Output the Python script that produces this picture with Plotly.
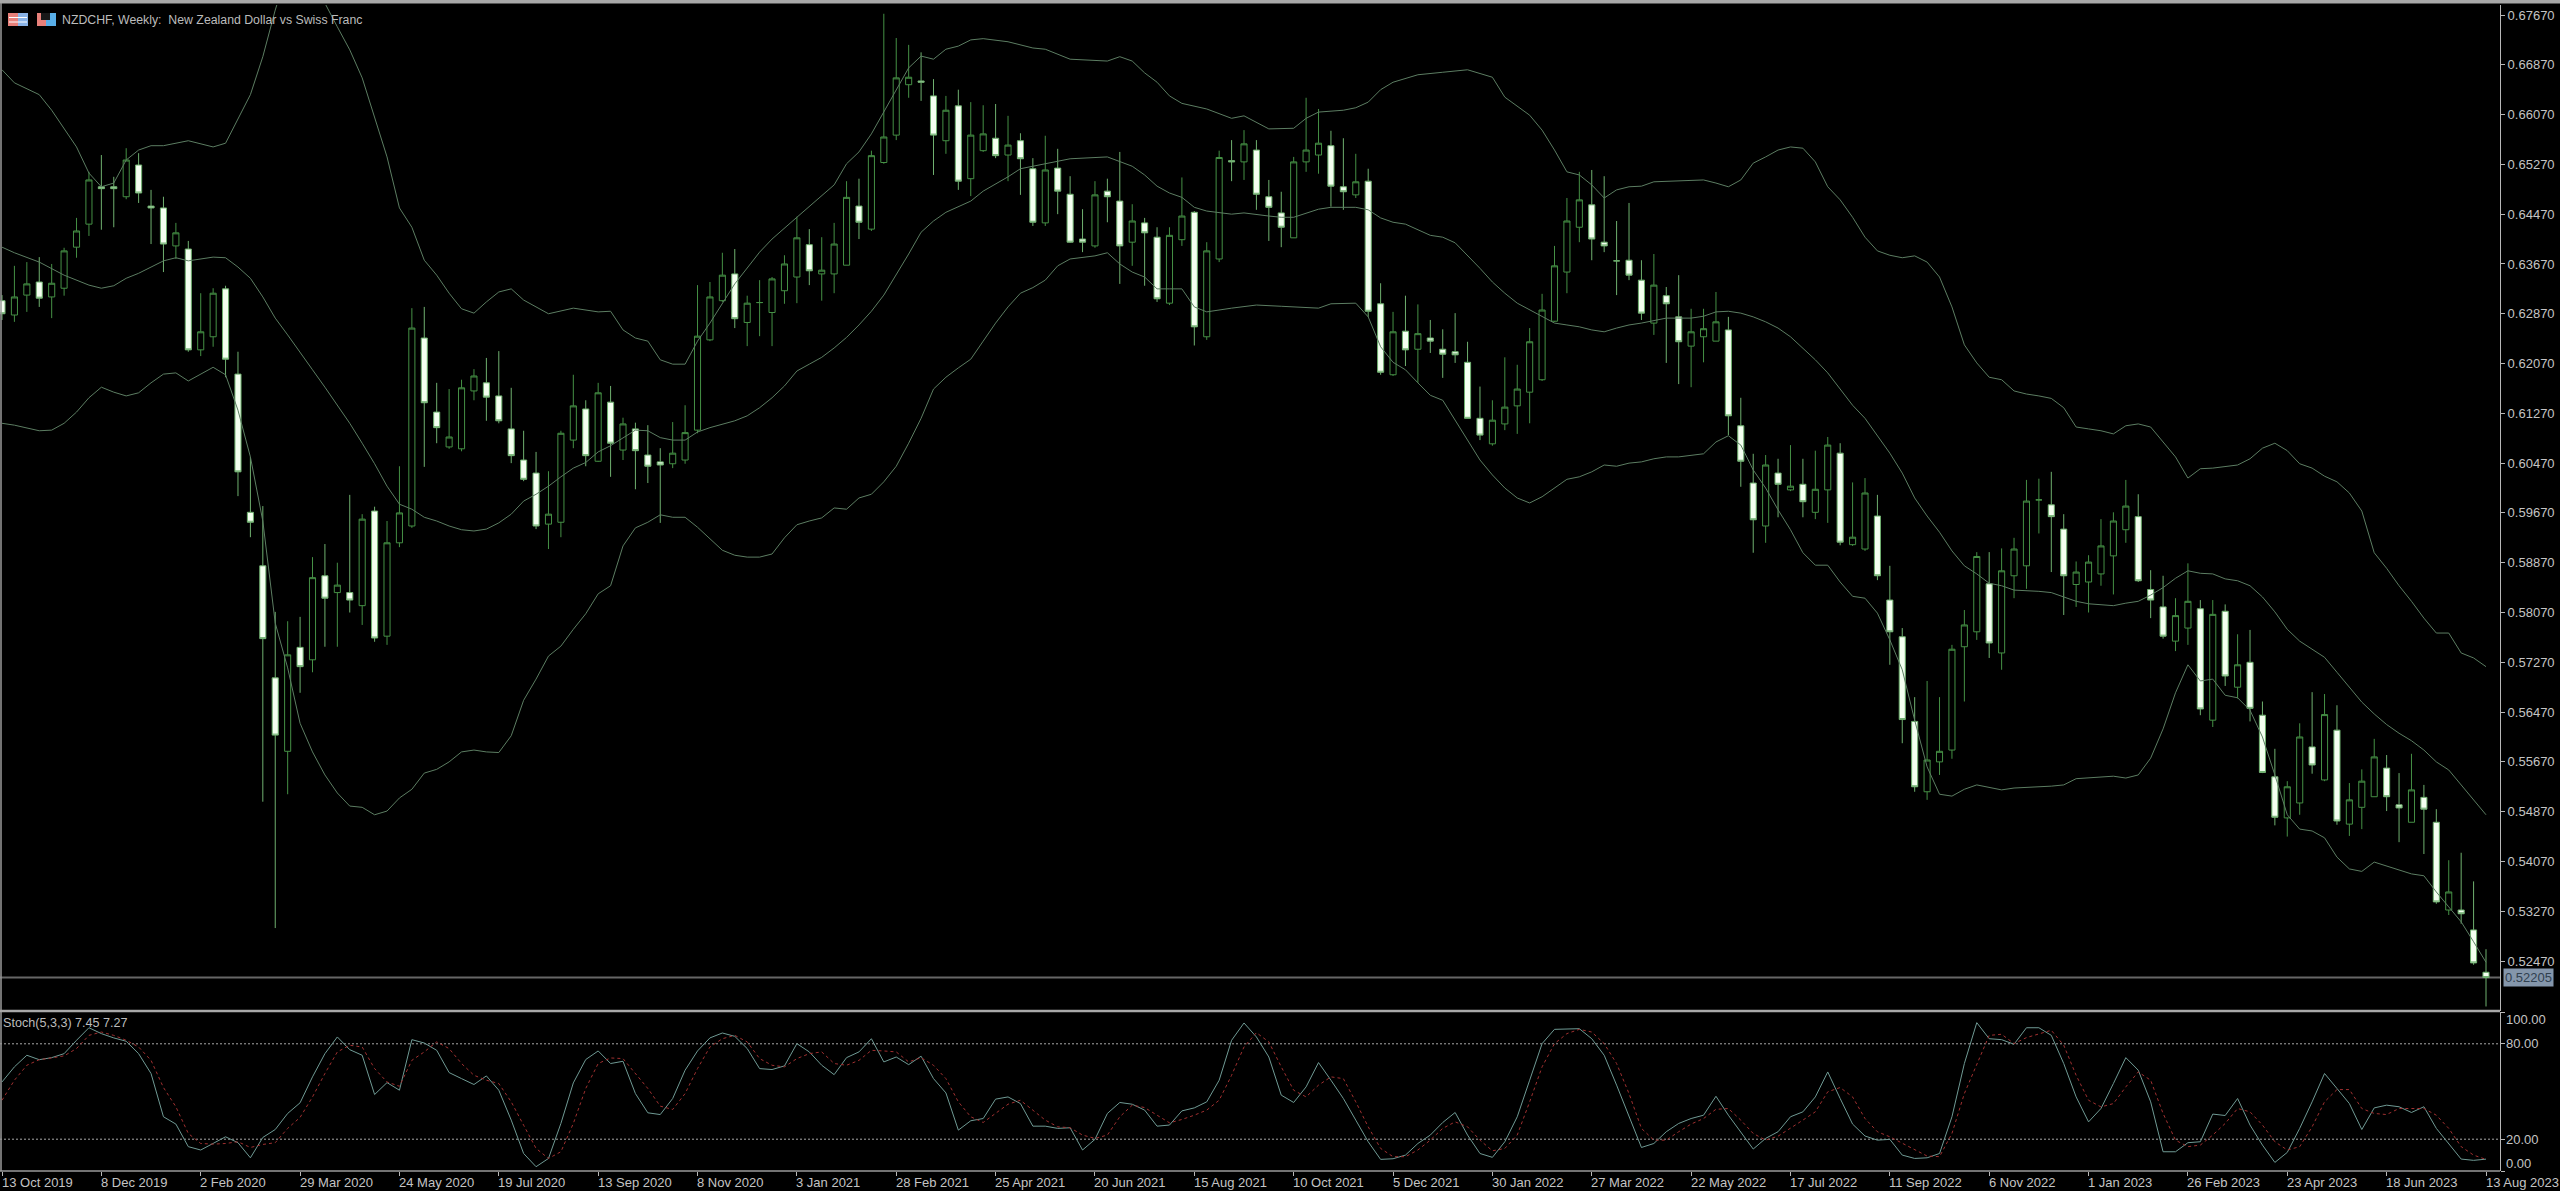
import plotly.graph_objects as go

W, H = 2560, 1191

title_text = "NZDCHF, Weekly:  New Zealand Dollar vs Swiss Franc"
stoch_text = "Stoch(5,3,3) 7.45 7.27"
last_price = 0.52205

date_labels = ["13 Oct 2019", "8 Dec 2019", "2 Feb 2020", "29 Mar 2020", "24 May 2020", "19 Jul 2020",
               "13 Sep 2020", "8 Nov 2020", "3 Jan 2021", "28 Feb 2021", "25 Apr 2021", "20 Jun 2021",
               "15 Aug 2021", "10 Oct 2021", "5 Dec 2021", "30 Jan 2022", "27 Mar 2022", "22 May 2022",
               "17 Jul 2022", "11 Sep 2022", "6 Nov 2022", "1 Jan 2023", "26 Feb 2023", "23 Apr 2023",
               "18 Jun 2023", "13 Aug 2023"]
date_bars = [i * 8 for i in range(len(date_labels))]
price_ticks = [0.6767, 0.6687, 0.6607, 0.6527, 0.6447, 0.6367, 0.6287, 0.6207, 0.6127, 0.6047, 0.5967,
               0.5887, 0.5807, 0.5727, 0.5647, 0.5567, 0.5487, 0.5407, 0.5327, 0.5247]
stoch_levels = [100, 80, 20, 0]

opens = [.6308,.6285,.6317,.6338,.6314,.6328,.6394,.6431,.6491,.6491,.6475,.6526,.6460,.6457,.6396,.6391,.6229,.6250,.6327,.6190,
 .5968,.5882,.5702,.5584,.5751,.5731,.5866,.5839,.5839,.5818,.5970,.5769,.5919,.5946,.6248,.6129,.6073,.6070,.6163,.6176,
 .6155,.6102,.6052,.6031,.5949,.5952,.6084,.6134,.6050,.6145,.6068,.6102,.6060,.6049,.6046,.6052,.6100,.6245,.6308,.6351,
 .6273,.6305,.6289,.6324,.6346,.6398,.6351,.6351,.6365,.6460,.6423,.6530,.6574,.6655,.6661,.6637,.6565,.6621,.6504,.6549,
 .6569,.6542,.6565,.6520,.6433,.6521,.6479,.6407,.6396,.6484,.6468,.6402,.6433,.6410,.6304,.6406,.6450,.6250,.6375,.6533,
 .6531,.6550,.6475,.6449,.6409,.6531,.6542,.6557,.6491,.6478,.6500,.6303,.6189,.6259,.6230,.6248,.6230,.6226,.6209,.6119,
 .6078,.6110,.6139,.6161,.6181,.6275,.6354,.6426,.6462,.6402,.6372,.6373,.6341,.6272,.6316,.6282,.6235,.6250,.6243,.6261,
 .6107,.6015,.5946,.6031,.6004,.6013,.5968,.6004,.6063,.5916,.5909,.5962,.5827,.5768,.5632,.5519,.5567,.5586,.5752,.5776,
 .5853,.5742,.5866,.5882,.5988,.5980,.5941,.5852,.5856,.5869,.5898,.5940,.5961,.5844,.5816,.5761,.5782,.5813,.5634,.5809,
 .5687,.5727,.5642,.5543,.5477,.5501,.5591,.5538,.5618,.5467,.5494,.5511,.5557,.5498,.5470,.5510,.5470,.5329,.5329,.5297,.5229]
highs = [.6317,.6364,.6370,.6378,.6367,.6393,.6441,.6515,.6542,.6507,.6553,.6545,.6486,.6475,.6433,.6404,.6320,.6328,.6332,.6226,
 .6057,.5978,.5808,.5793,.5800,.5896,.5917,.5887,.5996,.5965,.5977,.5954,.6042,.6296,.6298,.6176,.6166,.6181,.6198,.6216,
 .6227,.6168,.6099,.6065,.6034,.6099,.6189,.6148,.6176,.6171,.6120,.6112,.6108,.6071,.6113,.6140,.6333,.6338,.6385,.6391,
 .6316,.6341,.6346,.6381,.6443,.6423,.6410,.6433,.6500,.6504,.6549,.6769,.6730,.6719,.6707,.6664,.6637,.6647,.6627,.6622,
 .6624,.6605,.6577,.6537,.6573,.6552,.6508,.6455,.6500,.6504,.6547,.6463,.6441,.6426,.6426,.6506,.6452,.6402,.6549,.6566,
 .6582,.6566,.6502,.6483,.6539,.6634,.6616,.6581,.6569,.6544,.6520,.6336,.6290,.6316,.6302,.6277,.6262,.6288,.6242,.6170,
 .6148,.6217,.6205,.6264,.6319,.6396,.6473,.6515,.6518,.6508,.6436,.6465,.6373,.6383,.6330,.6349,.6295,.6295,.6322,.6282,
 .6152,.6062,.6060,.6054,.6076,.6054,.6067,.6089,.6079,.6016,.6023,.5996,.5882,.5782,.5671,.5697,.5671,.5755,.5811,.5904,
 .5904,.5910,.5927,.6020,.6022,.6033,.5965,.5889,.5899,.5957,.5968,.6020,.5997,.5875,.5866,.5830,.5886,.5827,.5827,.5820,
 .5772,.5779,.5664,.5588,.5536,.5629,.5679,.5676,.5658,.5533,.5555,.5604,.5578,.5549,.5580,.5530,.5491,.5409,.5421,.5375,.5266]
lows = [.6277,.6274,.6290,.6298,.6280,.6316,.6377,.6412,.6422,.6426,.6471,.6465,.6399,.6354,.6375,.6226,.6219,.6234,.6185,.5994,
 .5928,.5503,.5300,.5515,.5678,.5711,.5752,.5752,.5807,.5787,.5760,.5755,.5912,.5943,.6041,.6079,.6070,.6066,.6148,.6115,
 .6111,.6047,.6018,.5941,.5909,.5928,.6071,.6042,.6049,.6025,.6052,.6005,.6015,.5951,.6039,.6046,.6095,.6243,.6306,.6264,
 .6235,.6251,.6235,.6303,.6304,.6333,.6308,.6320,.6365,.6407,.6420,.6528,.6566,.6634,.6629,.6510,.6544,.6486,.6476,.6547,
 .6537,.6500,.6478,.6428,.6428,.6447,.6401,.6386,.6393,.6434,.6335,.6364,.6332,.6306,.6301,.6396,.6236,.6245,.6370,.6500,
 .6502,.6454,.6404,.6394,.6409,.6515,.6512,.6459,.6454,.6473,.6282,.6189,.6187,.6203,.6176,.6224,.6184,.6208,.6119,.6084,
 .6075,.6100,.6094,.6111,.6179,.6274,.6320,.6402,.6373,.6386,.6317,.6341,.6277,.6253,.6208,.6174,.6169,.6209,.6243,.6092,
 .6009,.5903,.5919,.5960,.6002,.5960,.5957,.5951,.5915,.5914,.5906,.5859,.5723,.5597,.5519,.5506,.5546,.5572,.5664,.5763,
 .5734,.5715,.5830,.5845,.5934,.5872,.5803,.5816,.5807,.5850,.5836,.5919,.5856,.5798,.5765,.5745,.5755,.5642,.5623,.5689,
 .5669,.5632,.5549,.5465,.5447,.5482,.5548,.5536,.5466,.5448,.5459,.5511,.5488,.5438,.5470,.5419,.5339,.5321,.5307,.5241,.5174]
closes = [.6287,.6314,.6335,.6312,.6336,.6388,.6420,.6502,.6488,.6488,.6534,.6481,.6457,.6399,.6417,.6229,.6258,.6320,.6214,.6033,
 .5952,.5765,.5610,.5739,.5720,.5863,.5830,.5851,.5827,.5957,.5766,.5919,.5967,.6264,.6144,.6104,.6089,.6168,.6187,.6153,
 .6115,.6059,.6021,.5946,.5965,.6095,.6139,.6059,.6160,.6079,.6110,.6067,.6042,.6044,.6063,.6096,.6251,.6314,.6349,.6279,
 .6304,.6305,.6343,.6367,.6409,.6356,.6357,.6399,.6474,.6434,.6541,.6571,.6666,.6667,.6659,.6574,.6614,.6500,.6574,.6576,
 .6541,.6558,.6536,.6434,.6518,.6484,.6402,.6402,.6478,.6475,.6396,.6436,.6417,.6311,.6413,.6444,.6266,.6388,.6538,.6531,
 .6560,.6479,.6458,.6426,.6531,.6550,.6561,.6492,.6483,.6499,.6291,.6193,.6258,.6229,.6255,.6243,.6222,.6221,.6119,.6092,
 .6116,.6137,.6166,.6242,.6293,.6364,.6436,.6470,.6407,.6396,.6372,.6349,.6288,.6333,.6303,.6242,.6258,.6263,.6274,.6123,
 .6050,.5956,.6044,.6013,.6010,.5985,.6005,.6076,.5920,.5928,.5999,.5866,.5776,.5635,.5527,.5570,.5584,.5748,.5787,.5897,
 .5758,.5874,.5909,.5986,.5988,.5961,.5866,.5872,.5888,.5914,.5954,.5978,.5858,.5827,.5769,.5802,.5825,.5652,.5804,.5705,
 .5723,.5653,.5550,.5478,.5527,.5607,.5562,.5643,.5472,.5506,.5536,.5575,.5511,.5493,.5522,.5491,.5342,.5358,.5323,.5244,.52205]

upper_bars = [0,1,3,4,6,7,8,9,10,11,12,13,15,17,18,20,21,22,23,24,25,26,27,28,29,30,31,32,33,34,35,36,37,38,39,40,41,42,43,44,46,48,49,50,51,52,53,54,55,56,57,58,59,61,62,64,66,67,68,69,70,71,72,73,74,75,76,77,78,79,81,83,84,86,89,90,91,92,93,94,95,97,99,100,102,103,104,105,106,108,109,110,111,112,114,116,118,120,121,123,124,125,126,127,128,129,130,131,132,133,134,137,138,139,140,141,142,143,144,145,146,147,148,149,150,151,152,153,154,155,156,157,158,159,160,161,162,163,164,165,166,167,168,169,170,171,172,173,174,175,176,177,178,180,181,182,183,184,185,186,187,188,189,190,191,192,193,194,195,196,197,198,199,200]
upper_vals = [.6679,.6658,.6639,.6614,.6555,.6513,.6491,.6497,.6534,.6550,.6557,.6557,.6565,.6555,.6561,.6639,.6700,.6775,.6839,.6871,.6863,.6786,.6748,.6711,.6666,.6603,.6539,.6457,.6426,.6373,.6349,.6320,.6295,.6288,.6306,.6322,.6327,.6309,.6298,.6287,.6296,.6290,.6291,.6261,.6248,.6243,.6213,.6206,.6206,.6243,.6272,.6303,.6335,.6386,.6407,.6442,.6476,.6494,.6528,.6547,.6576,.6611,.6648,.6682,.6701,.6696,.6712,.6717,.6727,.6729,.6724,.6714,.6712,.6696,.6693,.6700,.6693,.6674,.6659,.6637,.6625,.6616,.6601,.6605,.6584,.6584,.6585,.6601,.6611,.6614,.6618,.6627,.6647,.6659,.6671,.6675,.6679,.6667,.6635,.6606,.6582,.6550,.6515,.6510,.6494,.6473,.6486,.6491,.6492,.6499,.6500,.6502,.6497,.6491,.6502,.6529,.6539,.6550,.6555,.6553,.6531,.6491,.6470,.6442,.6410,.6388,.6381,.6377,.6380,.6370,.6346,.6298,.6237,.6208,.6185,.6181,.6163,.6158,.6155,.6151,.6136,.6105,.6102,.6099,.6094,.6107,.6110,.6105,.6081,.6057,.6023,.6038,.6039,.6044,.6054,.6071,.6079,.6067,.6046,.6039,.6026,.6017,.5999,.5970,.5903,.5878,.5850,.5825,.5798,.5774,.5774,.5742,.5734,.5720]

middle_bars = [0,1,3,5,7,8,9,10,11,12,13,14,15,17,18,19,20,21,22,23,24,25,26,27,28,29,30,31,32,33,34,35,36,37,38,39,40,41,42,43,44,45,46,47,48,49,50,51,52,53,54,55,56,57,59,60,61,62,63,64,65,66,67,68,69,70,71,72,73,74,75,76,77,78,79,80,81,82,83,84,86,89,90,91,92,93,94,95,96,97,99,100,102,103,104,105,106,107,109,110,111,112,113,115,116,117,118,119,120,121,122,123,124,125,126,127,128,129,130,131,132,134,136,137,138,139,140,141,142,143,144,145,146,147,148,149,150,151,152,153,154,155,156,157,158,159,160,161,162,164,165,166,167,168,170,171,172,173,174,175,176,177,178,179,180,181,182,183,184,185,186,187,188,189,190,191,192,193,194,195,196,197,198,199,200]
middle_vals = [.6394,.6385,.6370,.6349,.6333,.6328,.6332,.6344,.6352,.6362,.6372,.6377,.6372,.6378,.6377,.6362,.6344,.6314,.6280,.6253,.6224,.6197,.6169,.6140,.6111,.6079,.6046,.6010,.5981,.5973,.5960,.5954,.5946,.5940,.5938,.5941,.5951,.5965,.5986,.5997,.6010,.6025,.6039,.6048,.6065,.6075,.6088,.6100,.6099,.6088,.6084,.6084,.6097,.6104,.6115,.6123,.6136,.6152,.6171,.6195,.6206,.6217,.6232,.6249,.6269,.6291,.6317,.6349,.6383,.6418,.6436,.6450,.6459,.6468,.6484,.6495,.6507,.6520,.6524,.6528,.6536,.6539,.6532,.6524,.6510,.6492,.6481,.6474,.6458,.6452,.6447,.6449,.6444,.6442,.6442,.6449,.6455,.6458,.6458,.6454,.6441,.6434,.6431,.6413,.6410,.6401,.6381,.6360,.6338,.6320,.6304,.6293,.6282,.6272,.6269,.6266,.6261,.6258,.6264,.6269,.6272,.6280,.6280,.6283,.6290,.6291,.6288,.6282,.6274,.6264,.6250,.6232,.6213,.6192,.6166,.6140,.6119,.6092,.6063,.6031,.5991,.5962,.5936,.5906,.5882,.5869,.5854,.5850,.5843,.5841,.5839,.5832,.5825,.5821,.5818,.5822,.5825,.5835,.5847,.5862,.5874,.5870,.5869,.5861,.5858,.5850,.5832,.5808,.5780,.5761,.5748,.5735,.5711,.5687,.5663,.5644,.5627,.5613,.5601,.5586,.5567,.5554,.5530,.5507,.5482]

lower_bars = [0,1,3,4,5,6,7,8,9,10,11,12,13,14,15,16,17,18,19,20,21,22,23,24,25,26,27,28,29,30,31,32,33,34,35,36,37,38,39,40,41,42,43,44,45,46,47,48,49,50,51,52,53,54,55,56,57,58,59,60,61,62,63,64,65,66,67,68,69,70,71,72,73,74,75,76,77,78,79,80,81,82,83,84,85,86,88,89,90,91,92,93,94,95,96,97,99,101,103,104,105,106,107,109,110,111,112,113,114,115,116,117,118,119,120,121,122,123,124,125,126,127,128,129,130,131,132,133,134,135,137,138,139,140,141,142,143,144,145,146,147,148,149,150,151,152,153,154,155,156,157,158,159,161,162,165,166,167,170,171,172,173,174,175,176,177,178,179,180,181,182,183,184,185,186,187,188,189,190,191,192,193,194,195,196,197,198,199,200]
lower_vals = [.6111,.6108,.6099,.6100,.6111,.6129,.6152,.6169,.6161,.6155,.6160,.6176,.6190,.6192,.6179,.6190,.6201,.6189,.6132,.6057,.5954,.5790,.5718,.5629,.5583,.5546,.5517,.5496,.5494,.5482,.5488,.5509,.5523,.5549,.5555,.5567,.5583,.5586,.5583,.5582,.5609,.5666,.5700,.5737,.5753,.5780,.5805,.5837,.5850,.5914,.5943,.5952,.5964,.5960,.5960,.5944,.5925,.5907,.5899,.5896,.5896,.5901,.5927,.5948,.5954,.5959,.5975,.5973,.5991,.5997,.6017,.6042,.6079,.6119,.6166,.6185,.6200,.6214,.6243,.6272,.6298,.6320,.6329,.6341,.6364,.6375,.6380,.6385,.6367,.6354,.6346,.6327,.6327,.6327,.6298,.6290,.6296,.6301,.6299,.6298,.6296,.6296,.6303,.6304,.6282,.6234,.6209,.6197,.6176,.6156,.6148,.6116,.6084,.6052,.6028,.6007,.5991,.5983,.5993,.6007,.6021,.6025,.6033,.6044,.6042,.6047,.6049,.6054,.6057,.6057,.6062,.6081,.6091,.6076,.6036,.6007,.5972,.5940,.5903,.5883,.5883,.5856,.5833,.5830,.5806,.5763,.5715,.5634,.5559,.5515,.5512,.5523,.5530,.5522,.5525,.5528,.5530,.5540,.5544,.5541,.5546,.5573,.5620,.5678,.5723,.5697,.5700,.5674,.5670,.5650,.5607,.5546,.5482,.5459,.5456,.5445,.5414,.5395,.5391,.5406,.5400,.5393,.5387,.5384,.5358,.5334,.5310,.5278,.5245]

stoch_k = [56,65.5,72.8,70,71.3,73.8,82.2,90.1,86.4,83.7,81.6,73.8,61.3,34.1,29.5,15.3,13.2,17.3,21.5,17.8,
 8.3,21.1,26.1,36.2,42.9,59.2,73.8,84.3,76.3,72.8,48.1,55.6,50.8,82.6,80.5,75.9,61.9,58.1,54.4,59.8,
 50.8,32,11,2.7,7.9,29.9,55.4,70.1,75.5,67.6,69,48.7,36.6,35.5,45.6,63.4,75.5,83.7,86.8,84.7,
 77,64.4,63.8,66.1,80.1,74.9,66.5,60.6,71.3,74.9,83.2,68.6,71.7,66.9,72.2,58.1,49.1,25.7,31.6,33,
 45.2,46.6,42.4,28.2,28.2,26.8,27.2,13.2,19.9,36.2,43.1,42,38.3,28.2,28.9,37.8,39.7,43.5,57.1,82.2,
 93.1,84.3,71.7,47.7,43.1,52.9,68.2,57.1,45.6,32,18.4,7.3,7.7,10,17.3,22.6,30.5,36.8,22.6,11,
 8.6,18.4,34.1,57.1,80.1,89.1,89.5,89.5,83.2,72.8,54,34.1,14.8,17.3,24.7,29.9,33,35.1,47,35.1,
 24.7,13.8,20.5,24.7,34.1,37.2,46.6,62.3,45.6,29.5,22,19.4,19.9,10,7.9,8.3,11,34.1,67.6,93.3,
 83.2,82.6,79.7,90.1,90.1,85.3,67.6,46.6,30.9,39.3,55,71.3,63.4,43.5,12.1,12.1,17.8,18.4,35.8,34.9,
 45.6,28.9,16.3,5.4,11.7,26.8,43.5,61.3,51.9,42.4,26.1,39.7,41.4,40.4,36.8,40.4,26.8,17.3,7.5,6.7,7.45]
stoch_d = [44.5,57.1,66.5,70,71.1,72.4,77,85.3,87.4,85.3,82.2,78,69.6,52.5,40.4,23.6,17.3,16.9,17.3,18.4,
 14.8,16.7,17.8,26.8,33.7,46.6,61.3,74.9,79.1,78,64.4,56,53.3,69.6,74.9,81.2,77,67.6,60.2,57.1,
 55,43.5,28.8,14.2,7.9,12.1,29.9,51.9,67.6,71.1,70.7,61.3,51.9,40.8,38.7,48.7,64.4,78,83.2,85.3,
 81.2,70.7,66.5,65.5,70.7,73.8,74.9,67.6,66.5,69.6,75.9,75.5,74.9,68.6,71.3,66.5,58.1,43.5,34.1,30.5,
 36.2,42,44.5,38.3,32,27.8,27.2,22.6,20.5,22.6,34.1,41.4,39.9,35.1,30.3,32.4,35.1,38.3,44.5,60.2,
 78,87,81.2,65.5,50.8,46.6,54,59.2,58.1,43.5,27.8,14.2,9,9,13.2,19.4,26.8,30.9,27.8,19.4,
 12.7,14.2,22.6,43.5,65.5,80.1,86.4,89.1,87.4,80.1,67.6,48.7,26.8,19.4,19.4,24.7,29.5,33,38.8,39.3,
 32,23.6,19.4,21.9,26.8,32,37.2,49.8,52.5,46.6,33,24.7,21.5,17.3,13.2,9.4,9,23.6,48.7,67.6,
 85.3,86,80.1,83.9,86.4,88.5,79.1,60.2,44.5,40.3,42.4,52.9,62.3,57.1,36.2,19.4,15.3,16.3,22.6,29.9,
 39.3,37.2,28.9,18.4,13.2,15.3,27.8,43.5,51.2,51.2,39.3,36.2,35.5,39.3,39.3,39.3,35.1,26.8,15.3,10,7.27]

bars = list(range(len(opens)))

# Pane geometry (screen pixels of the 2560x1191 window)
AXIS_X, MAIN_TOP, MAIN_BOT, SUB_TOP, SUB_BOT = 2500, 5, 1011, 1012, 1171
BAR_PX, BAR0_PX = 12.42, 2.0
PRICE_AT_15, PX_PER_PRICE = 0.6767, 6224.0

def px(x):
    return x / W

def py(y):
    return 1 - y / H

x_range = [(0 - BAR0_PX) / BAR_PX, (AXIS_X - BAR0_PX) / BAR_PX]
y_range = [PRICE_AT_15 - (MAIN_BOT - 15) / PX_PER_PRICE, PRICE_AT_15 + (15 - MAIN_TOP) / PX_PER_PRICE]

GREEN = "#459045"
BAND = "#5c7d62"
LABEL = "#c4c4c4"
FONT = "Liberation Sans"

fig = go.Figure()
fig.add_trace(go.Candlestick(
    x=bars, open=opens, high=highs, low=lows, close=closes, xaxis="x", yaxis="y",
    increasing=dict(line=dict(color=GREEN, width=1), fillcolor="#000000"),
    decreasing=dict(line=dict(color="#6fb06f", width=1), fillcolor="#f4fff0"),
    whiskerwidth=0, hoverinfo="skip", showlegend=False))
for bx, vals in ((upper_bars, upper_vals), (middle_bars, middle_vals), (lower_bars, lower_vals)):
    fig.add_trace(go.Scatter(x=bx, y=vals, mode="lines", xaxis="x", yaxis="y", hoverinfo="skip",
                             line=dict(color=BAND, width=1), showlegend=False))
fig.add_trace(go.Scatter(x=bars, y=stoch_k, mode="lines", xaxis="x2", yaxis="y2", hoverinfo="skip",
                         line=dict(color="#6f9a94", width=1), showlegend=False))
fig.add_trace(go.Scatter(x=bars, y=stoch_d, mode="lines", xaxis="x2", yaxis="y2", hoverinfo="skip",
                         line=dict(color="#a03030", width=1, dash="3px,3px"), showlegend=False))

shapes = [
    dict(type="rect", xref="paper", yref="paper", x0=0, x1=1, y0=py(3.5), y1=1,
         fillcolor="#a8a8a8", line_width=0, layer="above"),
    dict(type="line", xref="paper", yref="paper", x0=px(1), x1=px(1), y0=py(SUB_BOT), y1=py(3),
         line=dict(color="#9a9a9a", width=1.5), layer="above"),
    dict(type="line", xref="paper", yref="paper", x0=0, x1=px(AXIS_X), y0=py(1011), y1=py(1011),
         line=dict(color="#a8a8a8", width=2.5), layer="above"),
    dict(type="line", xref="paper", yref="paper", x0=0, x1=px(AXIS_X), y0=py(SUB_BOT), y1=py(SUB_BOT),
         line=dict(color="#9a9a9a", width=1.5), layer="above"),
    dict(type="line", xref="paper", x0=0, x1=px(AXIS_X), yref="y", y0=last_price, y1=last_price,
         line=dict(color="#666666", width=2), layer="between"),
]
for lvl in (80, 20):
    shapes.append(dict(type="line", xref="paper", x0=0, x1=px(AXIS_X), yref="y2", y0=lvl, y1=lvl,
                       line=dict(color="#a8a8a8", width=1, dash="2px,2px"), layer="below"))
# Chart window icons
for x0, x1, c0 in ((8, 18, "#e8807a"), (18, 28, "#8ab4e8"), (37, 46, "#e8807a"), (46, 56, "#58aee8")):
    shapes.append(dict(type="rect", xref="paper", yref="paper", x0=px(x0), x1=px(x1), y0=py(26), y1=py(13),
                       fillcolor=c0, line_width=0, layer="above"))
for y in (17, 21.5):
    shapes.append(dict(type="rect", xref="paper", yref="paper", x0=px(9), x1=px(27), y0=py(y + 1), y1=py(y),
                       fillcolor="#ffffff", line_width=0, layer="above"))
shapes.append(dict(type="rect", xref="paper", yref="paper", x0=px(41), x1=px(50), y0=py(20), y1=py(13),
                   fillcolor="#181818", line_width=0, layer="above"))

ann = [
    dict(text=title_text, xref="paper", yref="paper", x=px(60), y=py(20), xanchor="left", yanchor="middle",
         showarrow=False, font=dict(family=FONT, size=12.3, color="#bcbcbc")),
    dict(text=stoch_text, xref="paper", yref="paper", x=px(1), y=py(1023), xanchor="left", yanchor="middle",
         showarrow=False, font=dict(family=FONT, size=12.6, color="#bcbcbc")),
    dict(text=f"{last_price:.5f}", xref="paper", yref="y", x=px(2503), y=last_price, xanchor="left", yanchor="middle",
         showarrow=False, font=dict(family=FONT, size=13, color="#30404f"), bgcolor="#8496ab", borderpad=1),
]
for b, lab in zip(date_bars, date_labels):
    ann.append(dict(text=lab, xref="x2", yref="paper", x=b, y=py(1182), xanchor="left", yanchor="middle",
                    showarrow=False, xshift=-2.5, font=dict(family=FONT, size=13, color=LABEL)))
for lvl, shift in zip(stoch_levels, (-7.5, 0, 0, 8)):
    ann.append(dict(text=f"{lvl:.2f}", xref="paper", yref="y2", x=px(2504), y=lvl, yshift=shift,
                    xanchor="left", yanchor="middle", showarrow=False,
                    font=dict(family=FONT, size=13, color=LABEL)))

fig.update_layout(
    width=W, height=H, margin=dict(l=0, r=0, t=0, b=0, pad=0),
    paper_bgcolor="#000000", plot_bgcolor="#000000", showlegend=False,
    font=dict(family=FONT, size=13, color=LABEL),
    shapes=shapes, annotations=ann, dragmode=False,
    xaxis=dict(domain=[0, px(AXIS_X)], range=x_range, anchor="y", matches="x2", showgrid=False, zeroline=False,
               showticklabels=False, ticks="", showline=False, rangeslider=dict(visible=False), fixedrange=True),
    yaxis=dict(domain=[py(MAIN_BOT), py(MAIN_TOP)], range=y_range, anchor="x", side="right", showgrid=False,
               zeroline=False, tickmode="array", tickvals=price_ticks, ticktext=[f"{t:.5f}" for t in price_ticks],
               ticks="outside", ticklen=4, tickcolor="#b8b8b8", showline=True, linecolor="#b8b8b8", linewidth=1,
               tickfont=dict(family=FONT, size=13, color=LABEL), fixedrange=True),
    xaxis2=dict(domain=[0, px(AXIS_X)], range=x_range, anchor="y2", showgrid=False, zeroline=False,
                tickmode="array", tickvals=date_bars, showticklabels=False, ticks="outside", ticklen=4,
                tickcolor="#b8b8b8", showline=False, fixedrange=True),
    yaxis2=dict(domain=[py(SUB_BOT), py(SUB_TOP)], range=[0, 100], anchor="x2", side="right", showgrid=False,
                zeroline=False, tickmode="array", tickvals=stoch_levels, showticklabels=False,
                ticks="outside", ticklen=4, tickcolor="#b8b8b8", showline=True, linecolor="#b8b8b8", linewidth=1,
                fixedrange=True),
)

fig.write_html("out.html", config={"displayModeBar": False},
               post_script="document.body.style.margin='0';document.body.style.background='#000';document.body.style.overflow='hidden';")
